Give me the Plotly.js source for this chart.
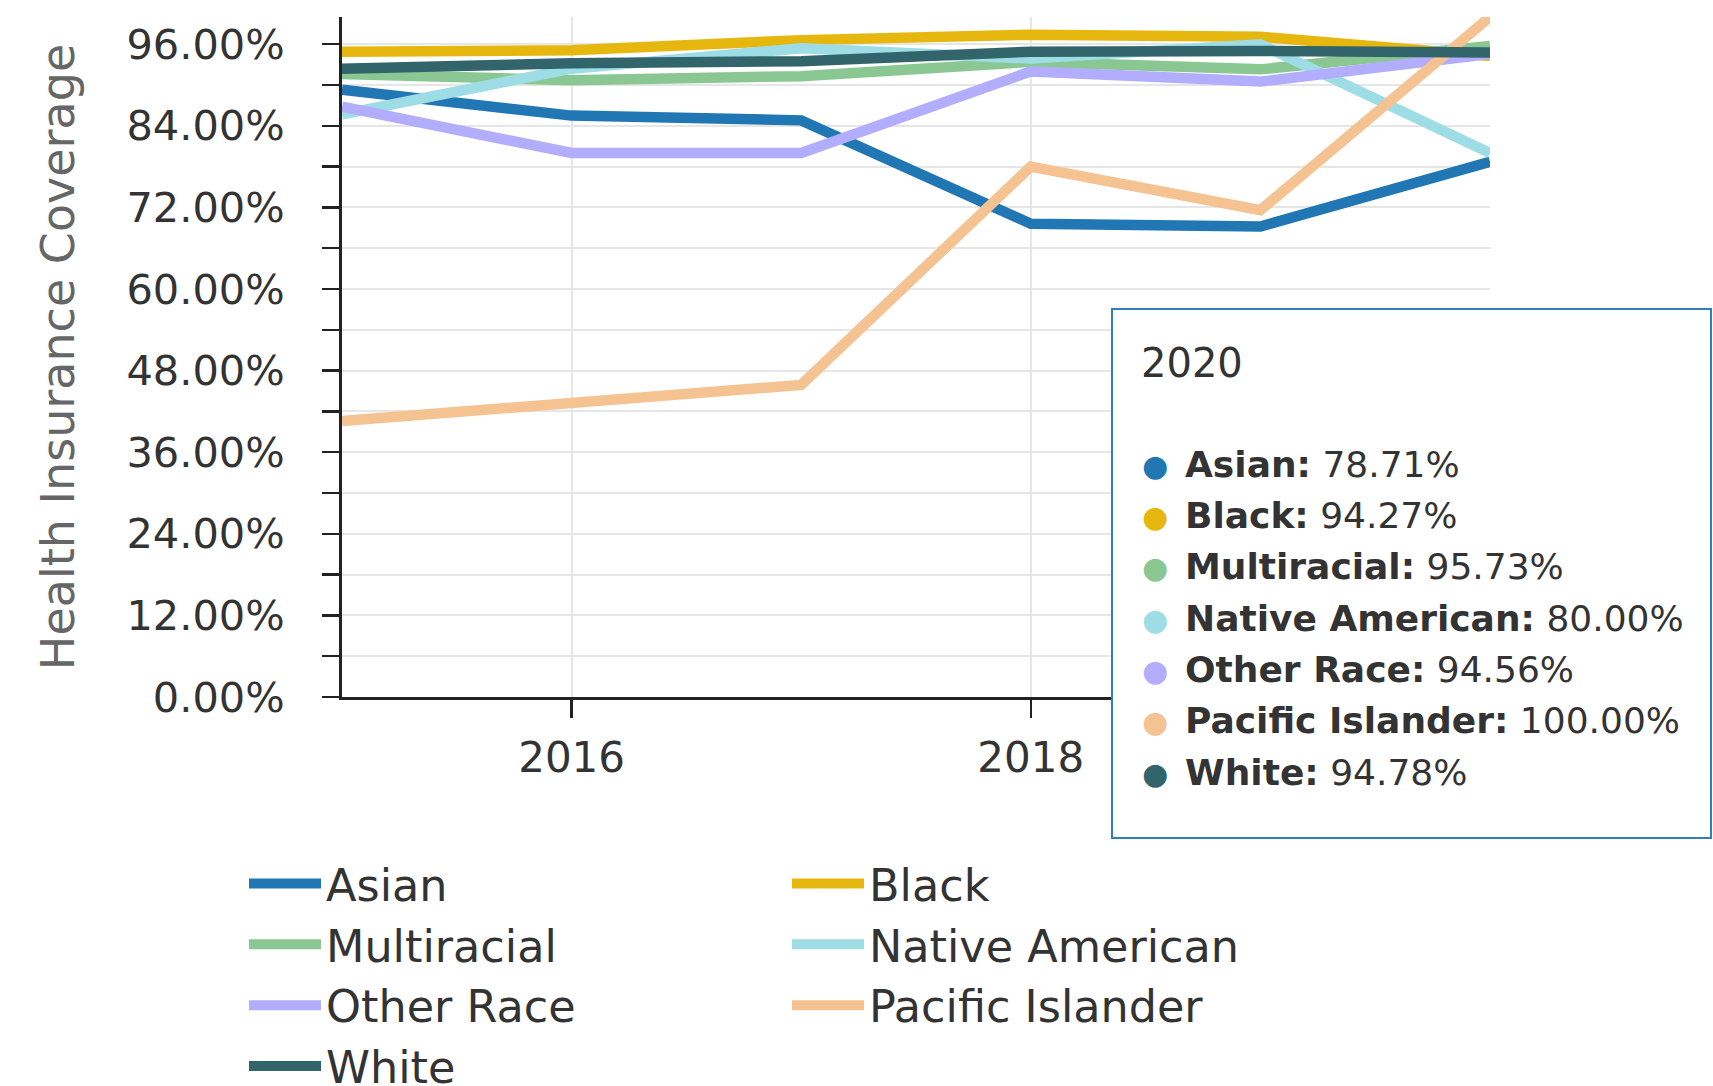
<!DOCTYPE html>
<html><head><meta charset="utf-8">
<script src="https://cdn.plot.ly/plotly-3.0.1.min.js"></script>
<style>html,body{margin:0;padding:0;background:#fff;} #chart{width:1713px;height:1086px;}</style>
</head><body><div id="chart"></div>
<script>
// ---- data ----
const years = [2015, 2016, 2017, 2018, 2019, 2020];
const seriesNames = ['Asian', 'Black', 'Multiracial', 'Native American', 'Other Race', 'Pacific Islander', 'White'];
const asian = [89.3, 85.5, 84.8, 69.6, 69.2, 78.71];
const black = [94.9, 95.1, 96.6, 97.4, 97.1, 94.27];
const multiracial = [91.6, 90.7, 91.3, 93.4, 92.3, 95.73];
const nativeAmerican = [85.7, 92.4, 95.4, 93.9, 96.0, 80.00];
const otherRace = [86.8, 80.0, 80.0, 92.0, 90.5, 94.56];
const pacificIslander = [40.6, 43.4, 45.9, 78.0, 71.6, 100.00];
const white = [92.4, 93.2, 93.5, 94.9, 95.0, 94.78];
const xTickVals = [2016, 2018, 2020];
const xTickText = ['2016', '2018', '']; // the 2020 label sits under the tooltip box in the reference
const tooltipYear = 2020;
const yTitle = 'Health Insurance Coverage';

// ---- styles ----
const seriesValues = [asian, black, multiracial, nativeAmerican, otherRace, pacificIslander, white];
const seriesColors = ['#2077b4', '#e6b80f', '#8bc792', '#9edde5', '#b3adfe', '#f5c291', '#31656b'];
const FONT = 'DejaVu Sans, Verdana, sans-serif';

const W = 1713, H = 1086;
const M = {l: 342, r: 223, t: 17, b: 389, autoexpand: false};
const PW = W - M.l - M.r, PH = H - M.t - M.b;
const px = x => (x - M.l) / PW;
const py = y => (H - M.b - y) / PH;

const traces = seriesNames.map((name, i) => ({
  type: 'scatter', mode: 'lines', name: name,
  x: years, y: seriesValues[i],
  line: {color: seriesColors[i], width: 10.5},
  hoverinfo: 'skip'
}));

// tooltip box
const shapes = [{
  type: 'rect', xref: 'paper', yref: 'paper', layer: 'above',
  x0: px(1112), x1: px(1711), y0: py(838), y1: py(309),
  fillcolor: '#ffffff', line: {color: '#2f7fbf', width: 2}
}];

const idx = years.indexOf(tooltipYear);
const annotations = [{
  xref: 'paper', yref: 'paper', x: px(1139), y: py(363), xanchor: 'left', yanchor: 'middle',
  text: String(tooltipYear), showarrow: false, font: {family: FONT, size: 40, color: '#333'}
}];
const rowY0 = 464, rowDy = 51.35;
seriesNames.forEach((name, i) => {
  const yy = rowY0 + i * rowDy;
  annotations.push({
    xref: 'paper', yref: 'paper', x: px(1155), y: py(yy + 1), xanchor: 'center', yanchor: 'middle',
    text: '●', showarrow: false, font: {family: FONT, size: 30, color: seriesColors[i]}
  });
  annotations.push({
    xref: 'paper', yref: 'paper', x: px(1183), y: py(yy), xanchor: 'left', yanchor: 'middle',
    text: '<b>' + name + ':</b> ' + seriesValues[i][idx].toFixed(2) + '%',
    showarrow: false, font: {family: FONT, size: 36, color: '#333'}
  });
});

const layout = {
  width: W, height: H,
  margin: M,
  paper_bgcolor: '#fff', plot_bgcolor: '#fff',
  hovermode: false,
  showlegend: true,
  legend: {
    orientation: 'h', x: px(244), xanchor: 'left', y: py(848), yanchor: 'top',
    entrywidth: 456, entrywidthmode: 'pixels', itemwidth: 72,
    font: {family: FONT, size: 44.5, color: '#333'},
    bgcolor: 'rgba(0,0,0,0)', traceorder: 'normal'
  },
  xaxis: {
    range: [2015, 2020], tickmode: 'array', tickvals: xTickVals, ticktext: xTickText,
    showline: true, linecolor: '#222', linewidth: 3,
    ticks: 'outside', ticklen: 18, tickwidth: 2.5, tickcolor: '#222',
    showgrid: true, gridcolor: '#e6e6e6', gridwidth: 2, zeroline: false,
    tickfont: {family: FONT, size: 42, color: '#333'}, ticklabelstandoff: 4
  },
  yaxis: {
    range: [0, 100], tick0: 0, dtick: 12, tickformat: '.2f', ticksuffix: '%',
    showline: true, linecolor: '#222', linewidth: 3,
    ticks: 'outside', ticklen: 17, tickwidth: 2.5, tickcolor: '#222',
    showgrid: true, gridcolor: '#e6e6e6', gridwidth: 2, zeroline: false,
    minor: {tick0: 0, dtick: 6, ticks: 'outside', ticklen: 17, tickwidth: 2.5, tickcolor: '#222',
            showgrid: true, gridcolor: '#e6e6e6', gridwidth: 2},
    tickfont: {family: FONT, size: 41.5, color: '#333'}, ticklabelstandoff: 29,
    title: {text: yTitle, font: {family: FONT, size: 46, color: '#666'}, standoff: 38}
  },
  shapes: shapes,
  annotations: annotations
};

Plotly.newPlot('chart', traces, layout, {staticPlot: true, displayModeBar: false});
</script>
</body></html>
